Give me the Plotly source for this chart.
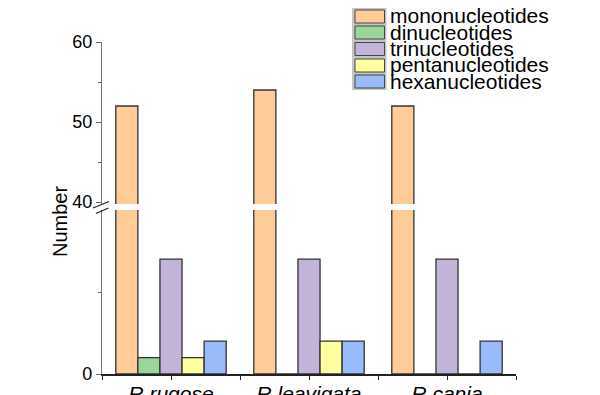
import plotly.graph_objects as go

# ---- data ----
species = ["R rugose", "R leavigata", "R cania"]
series_names = ["mononucleotides", "dinucleotides", "trinucleotides",
                "pentanucleotides", "hexanucleotides"]
mono = [52, 54, 52]
di = [1, 0, 0]
tri = [7, 7, 7]
penta = [1, 2, 0]
hexa = [2, 2, 2]
values = [mono, di, tri, penta, hexa]

lower_ticks = [0]
lower_minor = [5]
upper_ticks = [40, 50, 60]
upper_minor = [45, 55]

# ---- style ----
colors = ["#FFCC99", "#9AD69A", "#C2B4D9", "#FFFF9E", "#9ABBFA"]
FONT = "Arial, Liberation Sans, sans-serif"
W, H = 600, 395
OFF = 8  # page body margin offset
# plot area in screen pixels: x 102..516, y 42..374
SL, SR, ST, SB = 102, 516, 42, 374
L = SL - OFF
T = ST - OFF
R = W - (SR - OFF)
B = H - (SB - OFF)
PW, PH = W - L - R, H - T - B

def px(x):
    return (x - OFF - L) / PW

def py(y):
    return (H - B - (y - OFF)) / PH

xpos = list(range(len(species)))
xticks_all = sorted(xpos + [i - 0.5 for i in range(len(species) + 1)])

fig = go.Figure()
for name, vals, col in zip(series_names, values, colors):
    for xa, ya in (("x", "y"), ("x2", "y2")):
        fig.add_trace(go.Bar(
            x=xpos, y=vals, name=name, xaxis=xa, yaxis=ya,
            marker=dict(color=col, line=dict(color="#333333", width=1.3)),
            showlegend=False, hoverinfo="skip"))

lower_top = py(210)
upper_bot = py(204)

fig.update_layout(
    width=W, height=H,
    margin=dict(l=L, r=R, t=T, b=B, pad=0, autoexpand=False),
    paper_bgcolor="white", plot_bgcolor="white",
    barmode="group", bargap=0.2, bargroupgap=0,
    font=dict(family=FONT, color="black", size=18),
    xaxis=dict(domain=[0, 1], range=[-0.5, 2.5], anchor="y", automargin=False,
               tickvals=xpos, ticktext=species,
               showline=True, linecolor="#222222", linewidth=1.5,
               ticks="", ticklen=0,
               minor=dict(tickvals=xticks_all, ticks="outside", ticklen=4,
                          tickcolor="#222222", tickwidth=1.3, showgrid=False),
               tickfont=dict(size=21, style="italic", family=FONT),
               showgrid=False, zeroline=False),
    xaxis2=dict(domain=[0, 1], range=[-0.5, 2.5], anchor="y2", automargin=False,
                matches="x", visible=False),
    yaxis=dict(domain=[0, lower_top], range=[0, 10], anchor="x", automargin=False,
               tickvals=lower_ticks, ticks="outside", ticklen=5,
               tickcolor="#666666", tickwidth=1.2,
               minor=dict(tickvals=lower_minor, ticks="outside", ticklen=3,
                          tickcolor="#666666", showgrid=False),
               showline=True, linecolor="#777777", linewidth=1.3,
               showgrid=False, zeroline=False, tickfont=dict(size=18)),
    yaxis2=dict(domain=[upper_bot, 1], range=[39.75, 60], anchor="x2", automargin=False,
                tickvals=upper_ticks, ticks="outside", ticklen=5,
                tickcolor="#666666", tickwidth=1.2,
                minor=dict(tickvals=upper_minor, ticks="outside", ticklen=3,
                           tickcolor="#666666", showgrid=False),
                showline=True, linecolor="#777777", linewidth=1.3,
                showgrid=False, zeroline=False, tickfont=dict(size=18)),
)

# y-axis title
fig.add_annotation(text="Number", xref="paper", yref="paper",
                   x=px(60), y=py(222), textangle=-90, showarrow=False,
                   font=dict(size=20), xanchor="center", yanchor="middle")

# axis break marks
for (x0, y0, x1, y1) in [(93, 208, 109, 201.5), (96, 213.5, 108.5, 208)]:
    fig.add_shape(type="line", xref="paper", yref="paper",
                  x0=px(x0), y0=py(y0), x1=px(x1), y1=py(y1),
                  line=dict(color="#222222", width=1.2))

# legend (drawn box with swatches)
fig.add_shape(type="rect", xref="paper", yref="paper",
              x0=px(352), x1=px(386.5), y0=py(90), y1=py(8),
              fillcolor="#c4c4c4", line=dict(width=0))
tops = [10, 26, 42.5, 59, 75]
for name, col, t in zip(series_names, colors, tops):
    fig.add_shape(type="rect", xref="paper", yref="paper",
                  x0=px(355), x1=px(384.5), y0=py(t + 13), y1=py(t),
                  fillcolor=col, line=dict(color="#444444", width=1))
    fig.add_annotation(text=name, xref="paper", yref="paper",
                       x=px(388), y=py(t + 6), showarrow=False,
                       xanchor="left", yanchor="middle",
                       font=dict(size=21, color="black"))

fig.write_html("out.html")
